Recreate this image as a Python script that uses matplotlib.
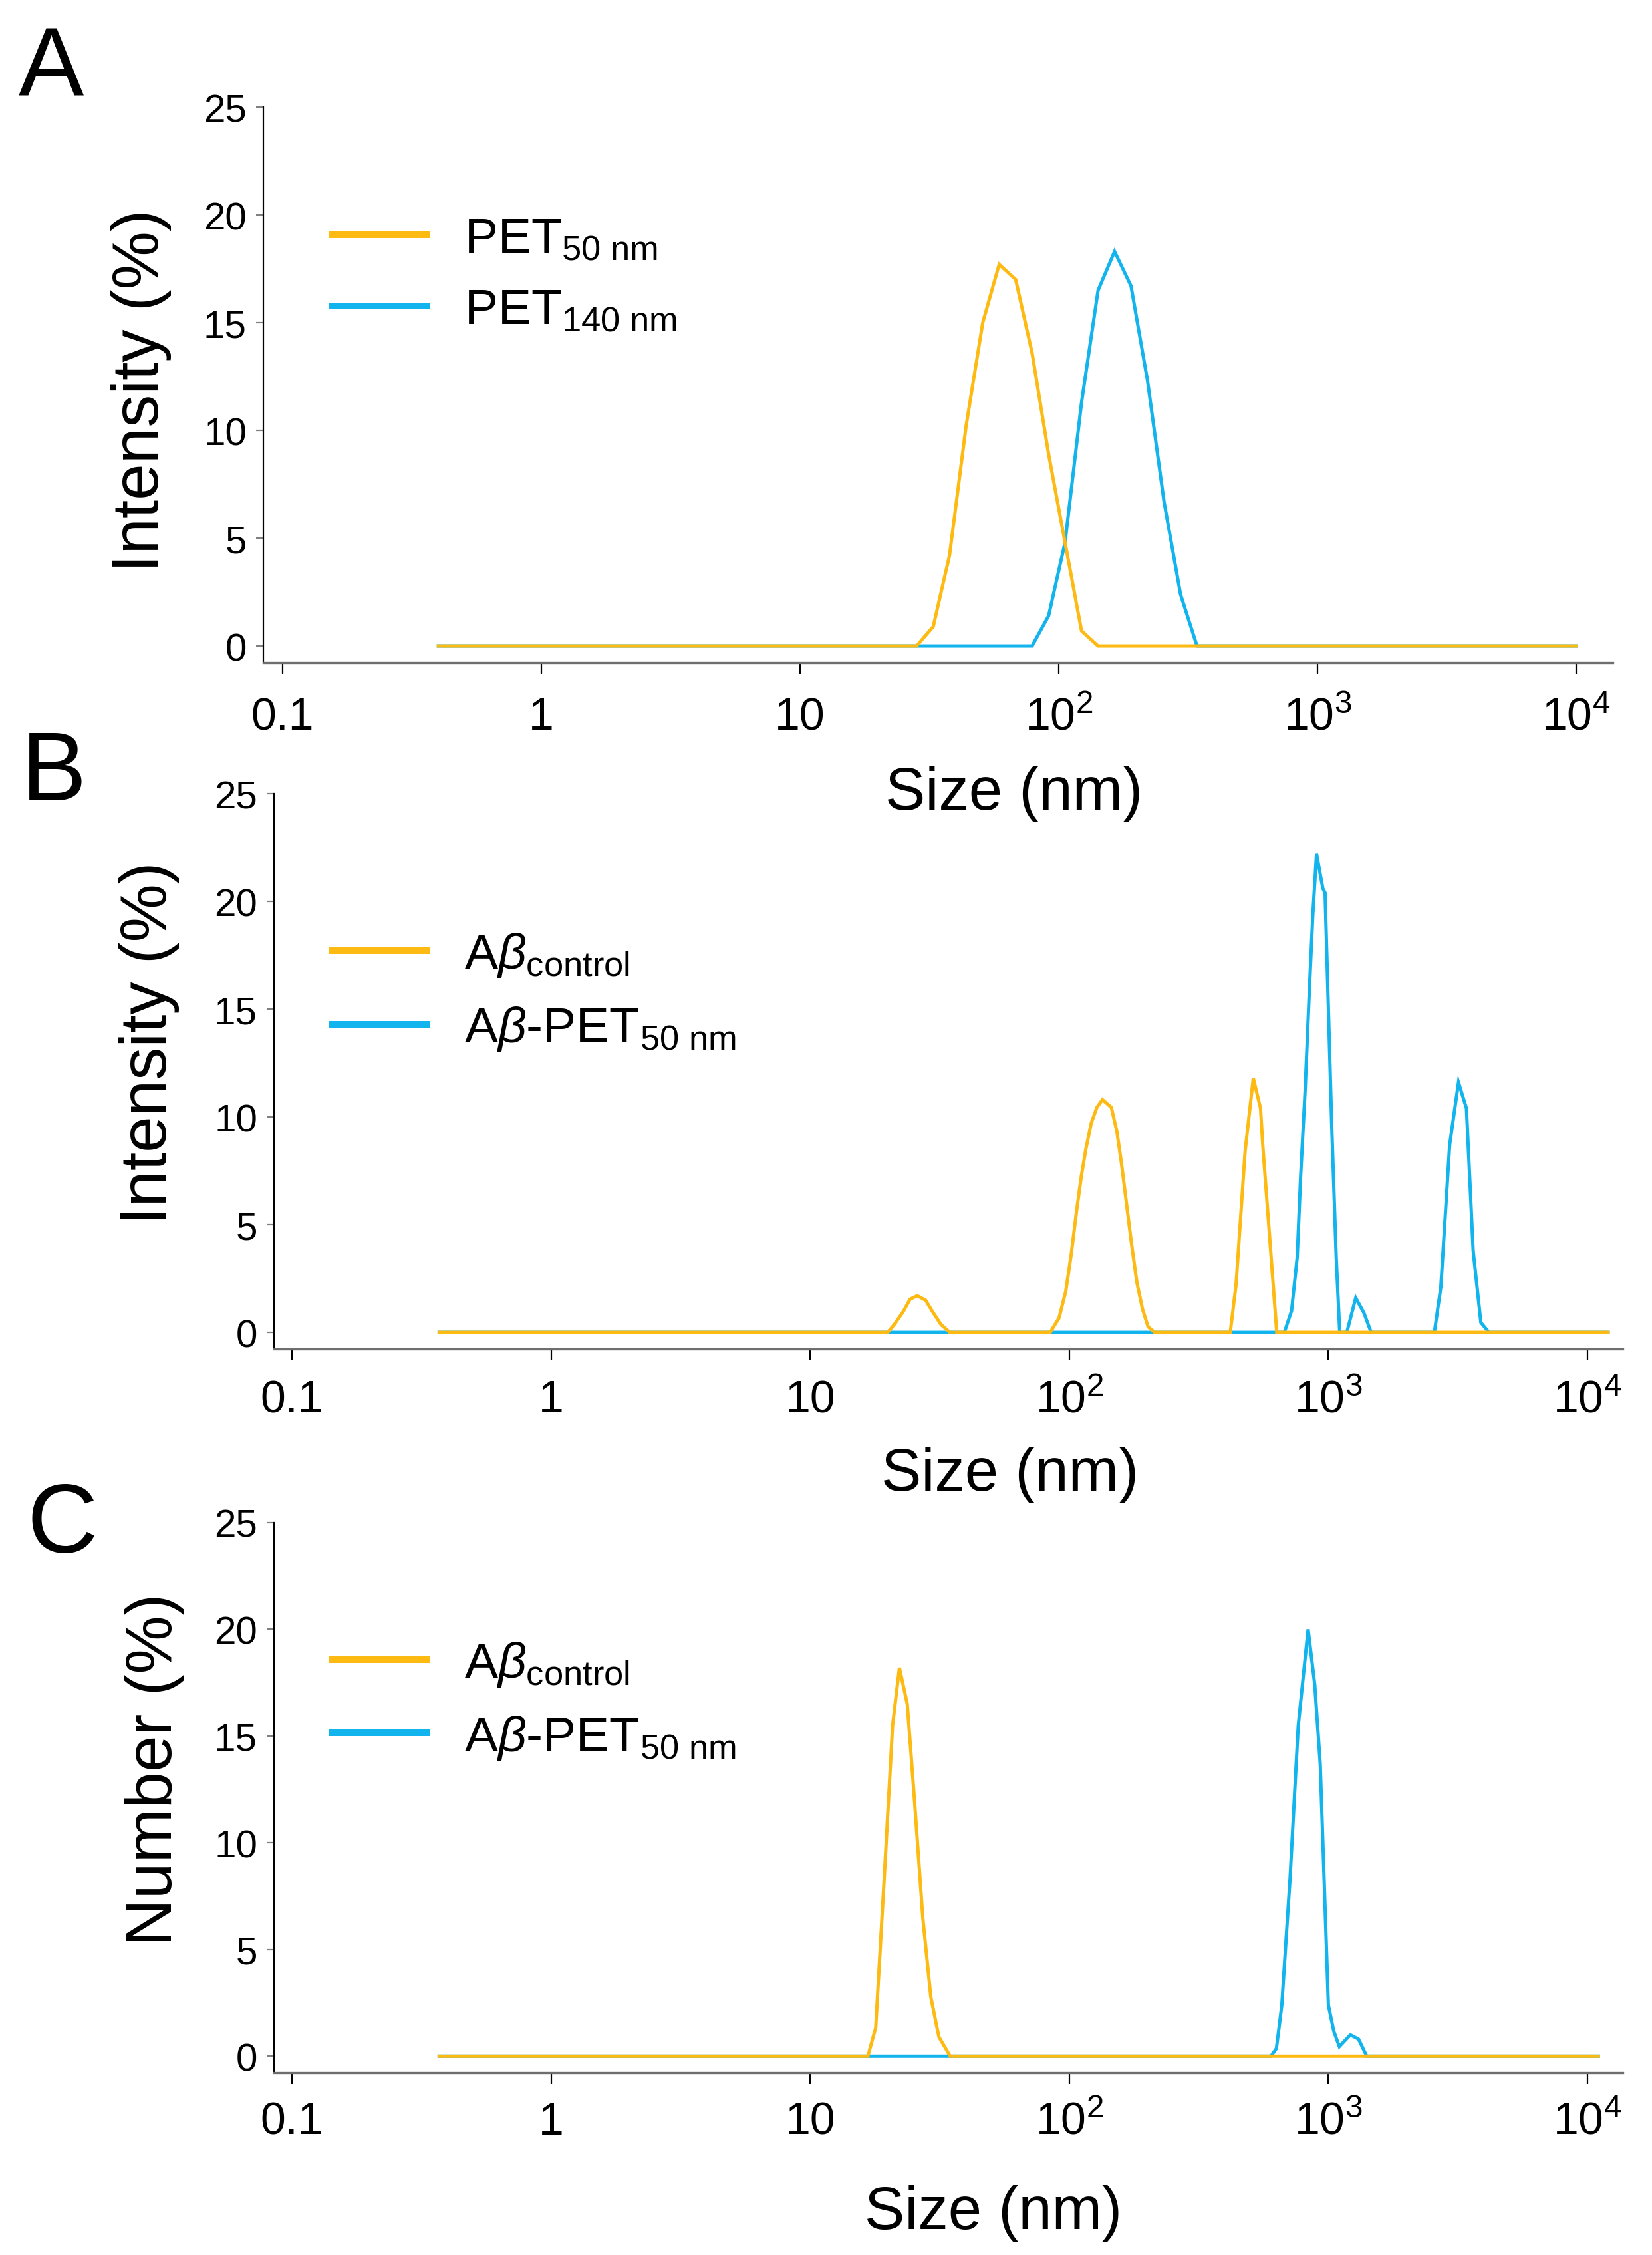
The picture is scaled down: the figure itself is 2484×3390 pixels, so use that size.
import matplotlib
matplotlib.use('Agg')
import matplotlib.pyplot as plt
from matplotlib import font_manager as fm
from matplotlib.ticker import FixedLocator, NullLocator

W, H = 2484, 3391
DPI = 200

names = {f.name for f in fm.fontManager.ttflist}
SANS = 'Liberation Sans' if 'Liberation Sans' in names else 'DejaVu Sans'
NARROW = 'Liberation Sans Narrow' in names
TICKF = 'Liberation Sans Narrow' if NARROW else SANS

plt.rcParams['font.family'] = [SANS, 'DejaVu Sans']
plt.rcParams['mathtext.fontset'] = 'custom'
plt.rcParams['mathtext.rm'] = SANS
plt.rcParams['mathtext.it'] = SANS + ':italic'
plt.rcParams['mathtext.bf'] = SANS + ':bold'

ORANGE = '#FDBA12'
BLUE = '#12B4EE'

# ---------------- data ----------------
# Panel A: intensity distribution of PET particles
a_orange_size = [0.4, 28.2, 32.7, 37.8, 43.8, 50.8, 58.8, 68.1, 78.8, 91.3, 105.7, 122.4, 141.8, 10000]
a_orange_val = [0, 0, 0.9, 4.2, 10.2, 15.0, 17.7, 17.0, 13.6, 8.9, 4.8, 0.7, 0, 0]
a_blue_size = [0.4, 78.8, 91.3, 105.7, 122.4, 141.8, 164.2, 190.1, 220.2, 255.0, 295.3, 342.0, 10000]
a_blue_val = [0, 0, 1.4, 4.8, 11.3, 16.5, 18.3, 16.7, 12.3, 6.7, 2.4, 0, 0]

# Panel B: intensity distribution of Abeta
b_orange_size = [0.37, 19.9, 21.1, 22.9, 24.3, 25.9, 27.9, 29.6, 32.0, 34.6,
                 84.4, 91.3, 96.9, 101.8, 106.9, 111.3, 115.8, 121.6, 127.8, 134.3,
                 145.3, 152.7, 158.9, 165.3, 173.6, 182.4, 191.7, 201.4, 213.7,
                 418, 440, 477, 513, 547, 558, 632, 12000]
b_orange_val = [0, 0, 0.36, 0.98, 1.54, 1.70, 1.49, 0.98, 0.36, 0,
                0, 0.67, 1.90, 3.65, 5.71, 7.25, 8.49, 9.72, 10.44, 10.80,
                10.44, 9.31, 7.87, 6.22, 4.17, 2.31, 1.08, 0.26, 0,
                0, 2.2, 8.4, 11.8, 10.4, 8.7, 0, 0]
b_blue_size = [0.37, 676, 721, 758, 781, 813, 846, 871, 900, 952, 971, 1030, 1072, 1106,
               1178, 1275, 1372, 1462, 2565, 2716, 2938, 3178, 3410, 3620, 3876, 4165, 12000]
b_blue_val = [0, 0, 1.0, 3.5, 7.2, 11.2, 16.1, 19.4, 22.2, 20.6, 20.4, 9.6, 3.5, 0,
              0, 1.6, 0.9, 0, 0, 2.1, 8.7, 11.6, 10.4, 3.8, 0.46, 0, 0]

# Panel C: number distribution of Abeta
c_orange_size = [0.37, 16.7, 17.9, 19.3, 20.8, 22.1, 23.7, 25.3, 27.2, 29.2, 31.4, 34.7, 11000]
c_orange_val = [0, 0, 1.34, 8.3, 15.5, 18.2, 16.5, 11.9, 6.5, 2.8, 0.9, 0, 0]
c_blue_size = [0.37, 600, 630, 661, 711, 765, 835, 886, 930, 1000, 1050, 1102, 1216, 1307, 1406, 11000]
c_blue_val = [0, 0, 0.36, 2.4, 8.3, 15.5, 20.0, 17.4, 13.7, 2.4, 1.16, 0.45, 1.0, 0.8, 0, 0]

x_ticks = [0.1, 1, 10, 100, 1000, 10000]
x_ticklabels = ['0.1', '1', '10', r'$\mathdefault{10^{2}}$', r'$\mathdefault{10^{3}}$', r'$\mathdefault{10^{4}}$']
y_ticks = [0, 5, 10, 15, 20, 25]
y_ticklabels = ['0', '5', '10', '15', '20', '25']

panel_letters = ['A', 'B', 'C']
y_titles = ['Intensity (%)', 'Intensity (%)', 'Number (%)']
x_title = 'Size (nm)'
legend_labels = [
    [r'PET$_{\mathrm{50\ nm}}$', r'PET$_{\mathrm{140\ nm}}$'],
    [r'A$\beta_{\mathrm{control}}$', r'A$\beta$-PET$_{\mathrm{50\ nm}}$'],
    [r'A$\beta_{\mathrm{control}}$', r'A$\beta$-PET$_{\mathrm{50\ nm}}$'],
]
series = [
    ((a_orange_size, a_orange_val), (a_blue_size, a_blue_val)),
    ((b_orange_size, b_orange_val), (b_blue_size, b_blue_val)),
    ((c_orange_size, c_orange_val), (c_blue_size, c_blue_val)),
]

# ---------------- layout (pixel geometry of the reference) ----------------
boxes = [(396, 2425, 162, 997), (412, 2440, 1194, 2029), (412, 2440, 2290, 3117)]
xlims = [(10 ** -1.0746, 10 ** 4.141), (10 ** -1.0693, 10 ** 4.136), (10 ** -1.0693, 10 ** 4.136)]
xpads = [12, 10, 9]
letter_pos = [(28, 145), (32, 1203), (40, 2334)]
ylab_pos = [(212, 587), (224, 1568), (232, 2660)]
xlab_pos = [(1525, 1217), (1519, 2241), (1494, 3351)]
legend_target = [(499, 354), (499, 1430), (499, 2496)]

xt_size = 26.5 if NARROW else 24.5
yt_size = 22.6 if NARROW else 21

fig = plt.figure(figsize=(W / DPI, H / DPI), dpi=DPI)
axes = []
legends = []
for i in range(3):
    l, r, t, b = boxes[i]
    ax = fig.add_axes([l / W, 1 - b / H, (r - l) / W, (b - t) / H])
    (os_, ov), (bs, bv) = series[i]
    lb, = ax.plot(bs, bv, color=BLUE, lw=1.8, solid_joinstyle='miter', zorder=2)
    lo, = ax.plot(os_, ov, color=ORANGE, lw=1.8, solid_joinstyle='miter', zorder=3)
    ax.set_xscale('log')
    ax.set_xlim(*xlims[i])
    ax.set_ylim(-0.77, 25)
    ax.xaxis.set_major_locator(FixedLocator(x_ticks))
    ax.xaxis.set_minor_locator(NullLocator())
    ax.set_xticks(x_ticks, x_ticklabels)
    ax.set_yticks(y_ticks, y_ticklabels)
    for sp in ('top', 'right'):
        ax.spines[sp].set_visible(False)
    ax.spines['left'].set_color('black')
    ax.spines['left'].set_linewidth(0.8)
    ax.spines['bottom'].set_color('#6e6e6e')
    ax.spines['bottom'].set_linewidth(1.2)
    ax.tick_params(axis='x', direction='out', length=6, width=0.8, color='black',
                   pad=xpads[i], labelsize=xt_size)
    ax.tick_params(axis='y', direction='out', length=4, width=0.8, color='#808080',
                   pad=5, labelsize=yt_size)
    for lab in ax.get_xticklabels() + ax.get_yticklabels():
        lab.set_fontfamily([TICKF, 'DejaVu Sans'])
    leg = ax.legend([lo, lb], legend_labels[i], loc='upper left',
                    bbox_to_anchor=(0.05, 0.82), bbox_transform=fig.transFigure,
                    frameon=False, fontsize=27, handlelength=1.9, handletextpad=0.75,
                    labelspacing=0.5, borderpad=0, borderaxespad=0)
    for hl in leg.get_lines():
        hl.set_linewidth(3.6)
    legends.append(leg)
    axes.append(ax)

    fig.text(letter_pos[i][0] / W, 1 - letter_pos[i][1] / H, panel_letters[i],
             fontsize=53, ha='left', va='baseline')
    fig.text(ylab_pos[i][0] / W, 1 - ylab_pos[i][1] / H, y_titles[i],
             fontsize=35.4, rotation=90, ha='center', va='center')
    fig.text(xlab_pos[i][0] / W, 1 - xlab_pos[i][1] / H, x_title,
             fontsize=32.6, ha='center', va='baseline')

# place legends so that the orange handle starts/centres where the reference has it
fig.canvas.draw()
rend = fig.canvas.get_renderer()
for leg, (tx, ty) in zip(legends, legend_target):
    bb = leg.get_lines()[0].get_window_extent(rend)
    cx, cy = bb.x0, 0.5 * (bb.y0 + bb.y1)
    dx = (tx - cx) / W
    dy = ((H - ty) - cy) / H
    leg.set_bbox_to_anchor((0.05 + dx, 0.82 + dy), transform=fig.transFigure)

fig.savefig('out.png', dpi=DPI)
